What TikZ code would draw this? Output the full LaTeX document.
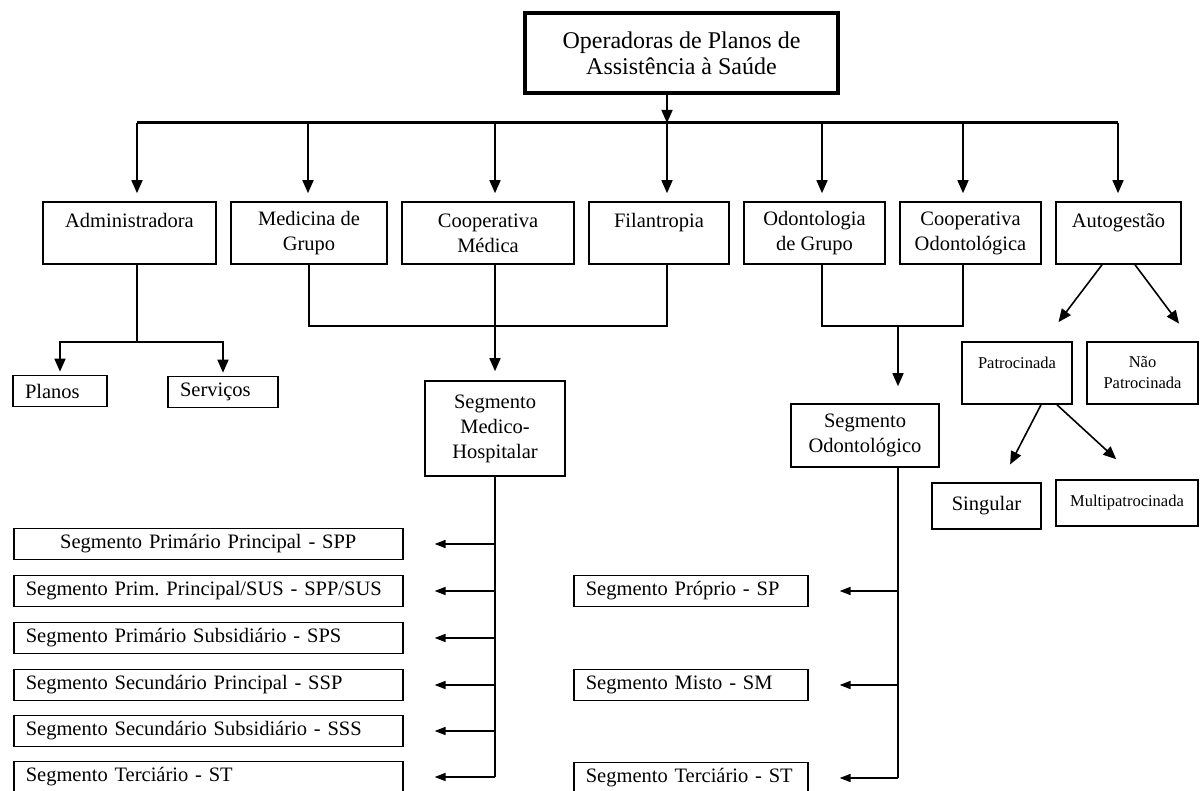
\documentclass[tikz,border=0pt]{standalone}
\usepackage{fontspec}
\setmainfont{Liberation Serif}
\usetikzlibrary{arrows.meta,calc}

\tikzset{
  caixa/.style={draw, line width=1.6pt, inner sep=0pt, align=center, font=\fontsize{20.5}{25}\selectfont},
  pequena/.style={caixa, font=\fontsize{16.5}{21}\selectfont},
  item/.style={draw, line width=1.6pt, anchor=west, inner xsep=12pt, inner ysep=0pt, minimum height=31pt, align=left, font=\fontsize{20.5}{25}\selectfont},
  liga/.style={line width=1.6pt},
  seta/.style={liga, -{Triangle[length=13pt,width=11pt]}},
  setap/.style={liga, -{Triangle[length=11pt,width=8pt]}},
}

\begin{document}
\frenchspacing
\begin{tikzpicture}[x=1pt,y=-1pt]
  \useasboundingbox (0,0) rectangle (1201,791);
  %% Raiz
  \node[caixa, line width=3.2pt, minimum width=313pt, minimum height=80pt, font=\fontsize{24}{26}\selectfont] (oper) at (681.5,53) {Operadoras de Planos de\\Assistência à Saúde};

  %% Modalidades
  \node[caixa, minimum width=173pt, minimum height=62pt] (adm) at (129.5,233) {Administradora\\\mbox{}};
  \node[caixa, minimum width=156pt, minimum height=62pt] (med) at (309,233) {Medicina de\\Grupo};
  \node[caixa, minimum width=172pt, minimum height=62pt] (cmed) at (488,233) {Cooperativa\\Médica};
  \node[caixa, minimum width=140pt, minimum height=62pt] (fil) at (659,233) {Filantropia\\\mbox{}};
  \node[caixa, minimum width=141pt, minimum height=62pt] (odg) at (814.5,233) {Odontologia\\de Grupo};
  \node[caixa, minimum width=141pt, minimum height=62pt] (cod) at (970.5,233) {Cooperativa\\Odontológica};
  \node[caixa, minimum width=125pt, minimum height=62pt] (auto) at (1118.5,233) {Autogestão\\\mbox{}};

  %% Barramento
  \coordinate (dAdm) at (137,123);
  \coordinate (dMed) at (308,123);
  \coordinate (dCmed) at (495,123);
  \coordinate (dFil) at (667,123);
  \coordinate (dOdg) at (822,123);
  \coordinate (dCod) at (963,123);
  \coordinate (dAuto) at (1118,123);
  \draw[seta] (oper.south -| dFil) -- (dFil);
  \draw[liga, line width=3pt] (dAdm) -- (dAuto);
  \foreach \d/\b in {dAdm/adm, dMed/med, dCmed/cmed, dFil/fil, dOdg/odg, dCod/cod, dAuto/auto}
    \draw[seta, shorten >=8pt] (\d) -- (\d |- \b.north);

  %% Administradora
  \node[item, anchor=center, text width=70pt] (pla) at (60,391) {Planos};
  \node[item, anchor=center, text width=86pt] (ser) at (223,392) {Serviços};
  \coordinate (rAdm) at (137,342);
  \draw[liga] (rAdm |- adm.south) -- (rAdm);
  \draw[seta, shorten >=3pt] (rAdm) -| (pla.north);
  \draw[seta, shorten >=3pt] (rAdm) -| (ser.north);

  %% Segmento Medico-Hospitalar
  \node[caixa, minimum width=140pt, minimum height=95pt] (smh) at (495,428.5) {Segmento\\Medico-\\Hospitalar};
  \coordinate (jMed) at (495,326);
  \draw[liga] (med.south) |- (jMed) -| (dFil |- fil.south);
  \draw[seta, shorten >=9pt] (dCmed |- cmed.south) -- (smh.north);

  %% Segmento Odontologico
  \node[caixa, minimum width=148pt, minimum height=63pt] (sod) at (865,435.5) {Segmento\\Odontológico};
  \coordinate (jOd) at (898,326);
  \draw[liga] (dOdg |- odg.south) |- (jOd) -| (dCod |- cod.south);
  \draw[seta, shorten >=17pt] (jOd) -- (jOd |- sod.north);

  %% Autogestao
  \node[pequena, minimum width=110pt, minimum height=62pt] (pat) at (1017,373) {Patrocinada\\\mbox{}};
  \node[pequena, minimum width=111pt, minimum height=62pt] (npat) at (1142.5,373) {Não\\Patrocinada};
  \node[caixa, minimum width=109pt, minimum height=46pt] (sing) at (986.5,506) {Singular};
  \node[pequena, minimum width=142pt, minimum height=46pt] (mult) at (1127,503) {Multipatrocinada};
  \draw[seta, shorten >=24pt] ($(auto.south)+(-16.5,0)$) -- ($(pat.north)+(27,0)$);
  \draw[seta, shorten >=22pt] ($(auto.south)+(16.5,0)$) -- ($(npat.north)+(49.7,0)$);
  \draw[seta, shorten >=20pt] ($(pat.south)+(24,0)$) -- ($(sing.north)+(14.4,0)$);
  \draw[seta, shorten >=25pt] ($(pat.south)+(40,0)$) -- ($(mult.north)+(7.7,-3)$);

  %% Segmentos medico-hospitalares
  \node[item, align=center, text width=365pt] (spp) at (13,544) {Segmento Primário Principal - SPP};
  \node[item, text width=365pt] (spps) at (13,591) {Segmento Prim. Principal/SUS - SPP/SUS};
  \node[item, text width=365pt] (sps) at (13,638) {Segmento Primário Subsidiário - SPS};
  \node[item, text width=365pt] (ssp) at (13,685) {Segmento Secundário Principal - SSP};
  \node[item, text width=365pt] (sss) at (13,731) {Segmento Secundário Subsidiário - SSS};
  \node[item, text width=365pt] (stm) at (13,777) {Segmento Terciário - ST};
  \draw[liga] (smh.south) -- (smh.south |- stm.east);
  \foreach \s in {spp, spps, sps, ssp, sss, stm}
    \draw[setap, shorten >=31pt] (smh.south |- \s.east) -- (\s.east);

  %% Segmentos odontologicos
  \node[item, text width=210pt] (sp) at (573,591) {Segmento Próprio - SP};
  \node[item, text width=210pt] (sm) at (573,685) {Segmento Misto - SM};
  \node[item, text width=210pt] (sto) at (573,778) {Segmento Terciário - ST};
  \draw[liga] (jOd |- sod.south) -- (jOd |- sto.east);
  \foreach \s in {sp, sm, sto}
    \draw[setap, shorten >=31pt] (jOd |- \s.east) -- (\s.east);
\end{tikzpicture}
\end{document}
